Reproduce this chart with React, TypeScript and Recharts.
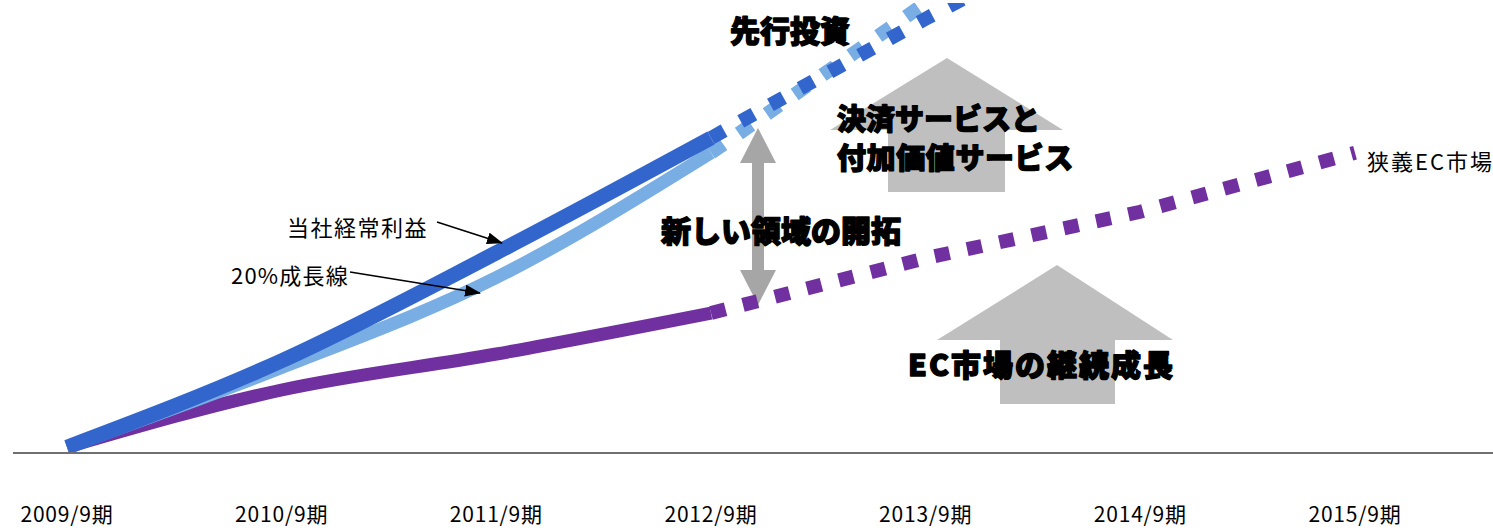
import React from 'react';
import { LineChart, Line, XAxis, YAxis } from 'recharts';

const categories = ['2009/9期', '2010/9期', '2011/9期', '2012/9期', '2013/9期', '2014/9期', '2015/9期'];
const profitActual = [1.3, 20.5, 44.5, 70, null, null, null];
const profitPlan = [null, null, null, 70, 96.5, 122, null];
const growthActual = [1.3, 19, 39, 66.7, null, null, null];
const growthPlan = [null, null, null, 66.7, 100, 132, null];
const ecActual = [1.3, 14, 22, 31.1, null, null, null];
const ecPlan = [null, null, null, 31.1, 43.3, 53.6, 66.7];

const data = categories.map((category, i) => ({
  category,
  profitActual: profitActual[i],
  profitPlan: profitPlan[i],
  growthActual: growthActual[i],
  growthPlan: growthPlan[i],
  ecActual: ecActual[i],
  ecPlan: ecPlan[i],
}));

const W = 1493;
const H = 530;
const JP = '"Noto Sans CJK JP", "Noto Sans", sans-serif';
const DARK = '#3366CC';
const LIGHT = '#79AEE4';
const PURPLE = '#7030A0';

const boldText: React.SVGProps<SVGTextElement> = {
  fontFamily: JP,
  fontWeight: 900,
  fill: '#000',
  stroke: '#000',
  strokeWidth: 1.4,
  strokeLinejoin: 'round',
  dominantBaseline: 'central',
};

const plainText: React.SVGProps<SVGTextElement> = {
  fontFamily: JP,
  fontWeight: 400,
  fill: '#000',
  dominantBaseline: 'central',
};

export default function App() {
  return (
    <div style={{ position: 'absolute', left: 0, top: 0, width: W, height: H, background: '#fff' }}>
      {/* background shapes */}
      <svg width={W} height={H} style={{ position: 'absolute', left: 0, top: 0 }}>
        <polygon points="947,58 830,130 888,130 888,192 1005,192 1005,130 1063,130" fill="#BFBFBF" />
        <polygon points="1057,265 937,340 1000,340 1000,404 1115,404 1115,340 1173,340" fill="#BFBFBF" />
        <polygon
          points="758,128 740,163 752,163 752,270 740,270 758,305 776,270 764,270 764,163 776,163"
          fill="#A6A6A6"
        />
      </svg>
      <div style={{ position: 'absolute', left: 0, top: 0 }}>
        <LineChart width={W} height={H} data={data} margin={{ top: 3, right: 0, left: 13, bottom: 0 }}>
          <XAxis
            dataKey="category"
            height={77}
            padding={{ left: 54, right: 138 }}
            axisLine={{ stroke: '#707070', strokeWidth: 2 }}
            tickLine={false}
            tickSize={0}
            tickMargin={54}
            interval={0}
            tick={{ fill: '#000', fontSize: 21, fontFamily: JP, letterSpacing: 0.8 }}
          />
          <YAxis hide domain={[0, 100]} allowDataOverflow />
          <Line dataKey="ecActual" type="monotone" stroke={PURPLE} strokeWidth={13} dot={false} isAnimationActive={false} />
          <Line dataKey="ecPlan" type="linear" stroke={PURPLE} strokeWidth={14} strokeDasharray="15 18" dot={false} isAnimationActive={false} />
          <Line dataKey="growthActual" type="monotone" stroke={LIGHT} strokeWidth={13} dot={false} isAnimationActive={false} />
          <Line dataKey="growthPlan" type="linear" stroke={LIGHT} strokeWidth={14} strokeDasharray="15 19" dot={false} isAnimationActive={false} />
          <Line dataKey="profitActual" type="monotone" stroke={DARK} strokeWidth={15} dot={false} isAnimationActive={false} />
          <Line dataKey="profitPlan" type="linear" stroke={DARK} strokeWidth={14} strokeDasharray="15 19" dot={false} isAnimationActive={false} />
        </LineChart>
      </div>
      {/* foreground text and pointers */}
      <svg width={W} height={H} style={{ position: 'absolute', left: 0, top: 0, pointerEvents: 'none' }}>
        <defs>
          <marker id="ah" markerWidth="16" markerHeight="12" refX="15" refY="6" orient="auto" markerUnits="userSpaceOnUse">
            <polygon points="0,0 16,6 0,12" fill="#000" />
          </marker>
        </defs>
        <line x1={437} y1={222} x2={502} y2={243} stroke="#000" strokeWidth={1.5} markerEnd="url(#ah)" />
        <line x1={350} y1={272} x2={480} y2={293} stroke="#000" strokeWidth={1.5} markerEnd="url(#ah)" />

        <text x={790} y={29} textAnchor="middle" fontSize={30} {...boldText}>先行投資</text>
        <text x={837} y={117} fontSize={29} {...boldText}>決済サービスと</text>
        <text x={837} y={156} fontSize={29} letterSpacing={0.6} {...boldText}>付加価値サービス</text>
        <text x={781} y={229} textAnchor="middle" fontSize={30} {...boldText}>新しい領域の開拓</text>
        <text x={908} y={363} fontSize={30} letterSpacing={2} {...boldText}>EC市場の継続成長</text>

        <text x={1367} y={160} fontSize={22} letterSpacing={2} {...plainText}>狭義EC市場</text>
        <text x={287} y={226} fontSize={22} letterSpacing={1.5} {...plainText}>当社経常利益</text>
        <text x={231} y={274} fontSize={22} letterSpacing={1.2} {...plainText}>20%成長線</text>
      </svg>
    </div>
  );
}
